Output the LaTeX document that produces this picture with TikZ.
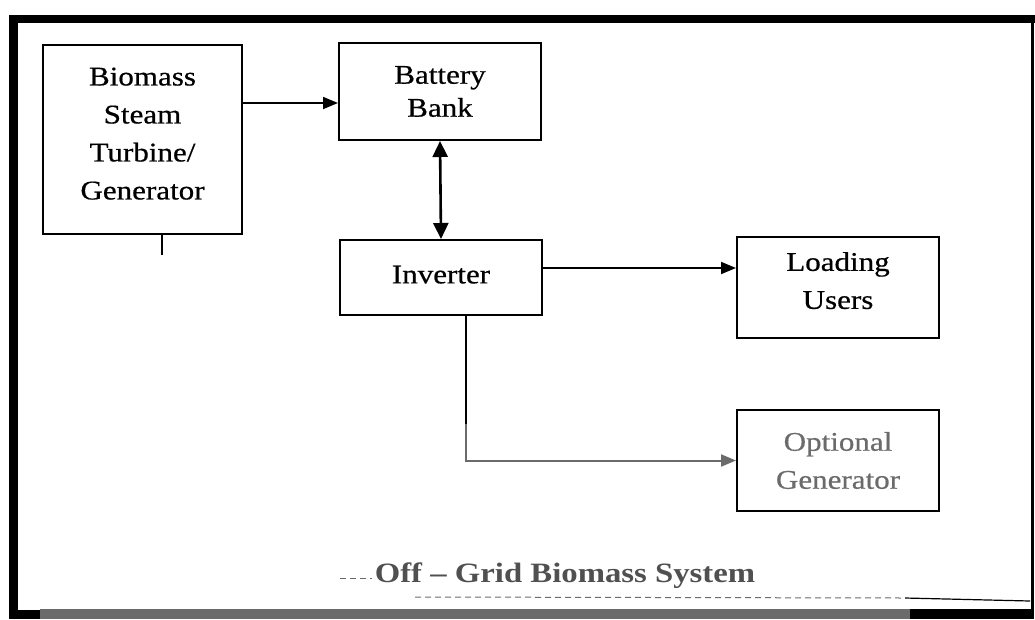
\documentclass[tikz,border=0pt]{standalone}
\usepackage{fontspec}
\setmainfont{Liberation Serif}
\newfontfamily\boxfont[FakeStretch=1.15,FakeBold=0.6]{Liberation Serif}
\newfontfamily\titlefont[FakeStretch=1.17]{Liberation Serif}
\usetikzlibrary{arrows.meta,calc}
\definecolor{scangray}{HTML}{6B6B6B}
\definecolor{titlegray}{HTML}{505050}
\tikzset{
  blockbox/.style={draw=black, line width=2pt, align=center, inner sep=0pt,
    font=\boxfont\fontsize{27}{38}\selectfont},
  arr/.style={line width=1.8pt, -{Triangle[length=15pt,width=12pt]}},
  dblarr/.style={line width=2.6pt, {Triangle[length=16pt,width=15pt]}-{Triangle[length=16pt,width=15pt]}},
  plainline/.style={line width=1.8pt},
  deco/.style={scangray, line width=1pt, dash pattern=on 6pt off 4pt},
}
\begin{document}
\begin{tikzpicture}[x=1pt,y=-1pt]
\useasboundingbox (0,0) rectangle (1035,619);
% frame
\fill[black] (9,15) rectangle (1035,23);
\fill[black] (9,15) rectangle (18,619);
\fill[black] (1031,15) rectangle (1034,619);
\fill[black] (9,610) rectangle (40,619);
\fill[scangray] (40,609) rectangle (910,619);
\fill[black] (910,609) rectangle (1034,619);

% blocks
\node[blockbox, minimum width=199pt, minimum height=189pt, text depth=12pt] (bio) at (142.5,139.5)
  {Biomass\\Steam\\Turbine/\\Generator};
\node[blockbox, minimum width=202pt, minimum height=97pt,
  font=\boxfont\fontsize{27}{33}\selectfont] (bat) at (440,91.5) {Battery\\Bank};
\node[blockbox, minimum width=202pt, minimum height=75pt, text depth=6pt] (inv) at (441,277.5) {Inverter};
\node[blockbox, minimum width=202pt, minimum height=101pt, text depth=14pt] (lu) at (838,287.5) {Loading\\Users};
\node[blockbox, text=scangray, minimum width=202pt, minimum height=101pt] (opt) at (838,460.5)
  {Optional\\Generator};

% connectors
\coordinate (p1) at ([yshift=-11.5pt]bat.west);
\draw[arr] (bio.east |- p1) -- (p1);
\draw[dblarr] (bat.south) -- (inv.north);
\coordinate (p2) at ([yshift=19.5pt]lu.west);
\draw[arr] (inv.east |- p2) -- (p2);
\coordinate (q) at ([xshift=25pt]inv.south);
\coordinate (m) at ($(q)+(0,108)$);
\draw[plainline] (q) -- (m);
\draw[arr, scangray, line width=2pt] (m) |- (opt.west);
\coordinate (s1) at ([xshift=19.5pt]bio.south);
\coordinate (s2) at ($(s1)+(0,20)$);
\draw[plainline] (s1) -- (s2);

% title
\node[anchor=base, text=titlegray, font=\titlefont\bfseries\fontsize{28}{32}\selectfont] (title) at (565,582)
  {Off – Grid Biomass System};
\draw[deco] (340,578) -- (372,578);
\draw[deco] (415,597) -- (905,598);
\draw[black, line width=1.2pt] (905,598) -- (1030,601);
\end{tikzpicture}
\end{document}
